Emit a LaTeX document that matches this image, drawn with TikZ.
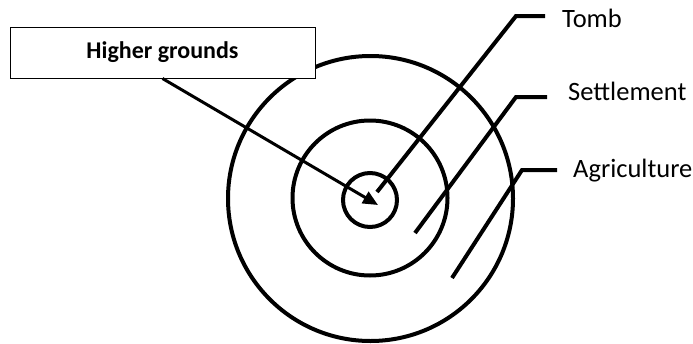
\documentclass[tikz,border=0pt]{standalone}
\usepackage{fontspec}
\setmainfont{Carlito}
\usetikzlibrary{arrows.meta}

\begin{document}
\begin{tikzpicture}[x=1pt,y=-1pt,
    ring/.style={circle, draw, line width=4pt, inner sep=0pt},
    leader/.style={line width=4pt},
    lbl/.style={anchor=base west, inner sep=0pt, font=\fontsize{26.5}{30}\selectfont}]
    \useasboundingbox (0,0) rectangle (693,343);
    % Cerchi
    \node[ring, minimum size=285pt](outer) at (370.5,198.5) {};
    \node[ring, minimum size=155pt](middle) at (370,198) {};
    \node[ring, minimum size=54pt](inner) at (370,200) {};

    % Punti delle linee
    \coordinate (t1) at (377,192);
    \coordinate (t2) at (516,16);
    \coordinate (t3) at (545,16);
    \coordinate (s1) at (415,233);
    \coordinate (s2) at (516,97);
    \coordinate (s3) at (547,97);
    \coordinate (a1) at (452,278);
    \coordinate (a2) at (522,170);
    \coordinate (a3) at (557,170);
    \coordinate (tip) at (378,205);

    % Etichette
    \node[lbl](tomb) at (562,27) {Tomb};
    \node[lbl](settle) at (568,100) {Settlement};
    \node[lbl](agri) at (573,177) {Agriculture};
    \node[draw, fill=white, line width=1pt, minimum width=305pt, minimum height=51pt,
          font=\fontsize{24}{28}\selectfont\bfseries](high) at (162.5,52.5) {Higher grounds};

    % Linee
    \draw[leader] (t1) -- (t2) -- (t3);
    \draw[leader] (s1) -- (s2) -- (s3);
    \draw[leader] (a1) -- (a2) -- (a3);
    \draw[line width=3pt, -{Triangle[length=15pt,width=13pt]}] (high.south) -- (tip);
\end{tikzpicture}
\end{document}
